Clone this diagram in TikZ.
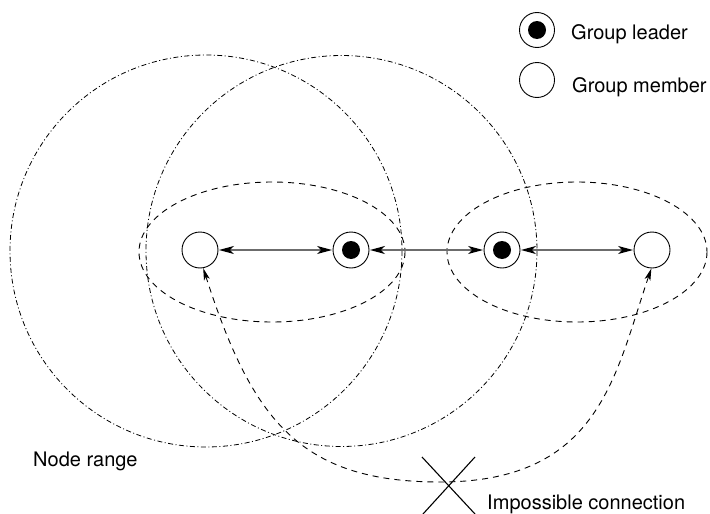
\documentclass[tikz,border=0pt]{standalone}
\usepackage{fontspec}
\setmainfont{TeX Gyre Heros}
\usetikzlibrary{arrows.meta}
\begin{document}
\begin{tikzpicture}[x=1pt,y=-1pt,
  member/.style={circle,draw=black,line width=0.9pt,fill=white,minimum size=36pt,inner sep=0pt},
  leader/.style={member,path picture={\fill[black] (path picture bounding box.center) circle (9pt);}},
  rangecirc/.style={line width=0.8pt,dash pattern=on 5pt off 2.5pt on 1pt off 2.5pt},
  groupell/.style={line width=0.9pt,dash pattern=on 6pt off 5pt},
  conn/.style={draw=gray!85!black,line width=1.3pt,
    {Stealth[color=black,length=15pt,width=8pt,inset=4pt]}-{Stealth[color=black,length=15pt,width=8pt,inset=4pt]},
    shorten <=0.5pt, shorten >=0.5pt},
  imposs/.style={line width=0.9pt,dash pattern=on 6pt off 5pt,
    {Stealth[length=12pt,width=6pt,inset=3pt]}-{Stealth[length=12pt,width=6pt,inset=3pt]}},
  lab/.style={anchor=base west,inner sep=0pt,font=\fontsize{20}{24}\selectfont}]
\useasboundingbox (0,0) rectangle (710,514);
% range circles
\draw[rangecirc] (206,251) circle (196);
\draw[rangecirc] (341.5,251) circle (195.5);
% group ellipses
\draw[groupell] (272,252) ellipse [x radius=133, y radius=70];
\draw[groupell] (577,252) ellipse [x radius=130, y radius=70];
% nodes
\node[member] (m1) at (200,250) {};
\node[leader] (l1) at (351,250) {};
\node[leader] (l2) at (502,250) {};
\node[member] (m2) at (652,250) {};
% connections
\draw[conn] (m1) -- (l1);
\draw[conn] (l1) -- (l2);
\draw[conn] (l2) -- (m2);
\draw[imposs] (m1.-80) .. controls (252,420) and (300,482) .. (440,482)
  .. controls (600,482) and (615,375) .. (m2.-92);
% cross
\coordinate (c1) at (422,457);
\coordinate (c2) at (475,514);
\coordinate (c3) at (475,457);
\coordinate (c4) at (423,514);
\draw[line width=1.1pt] (c1) -- (c2);
\draw[line width=1.1pt] (c3) -- (c4);
% legend
\node[leader,minimum size=35pt] (gl) at (537,30) {};
\node[member,minimum size=35pt] (gm) at (537,80) {};
\node[lab] (tl) at (571,39) {Group leader};
\node[lab] (tm) at (572,92) {Group member};
\node[lab] (tr) at (33,466) {Node range};
\node[lab] (ti) at (487,509) {Impossible connection};
\end{tikzpicture}
\end{document}
